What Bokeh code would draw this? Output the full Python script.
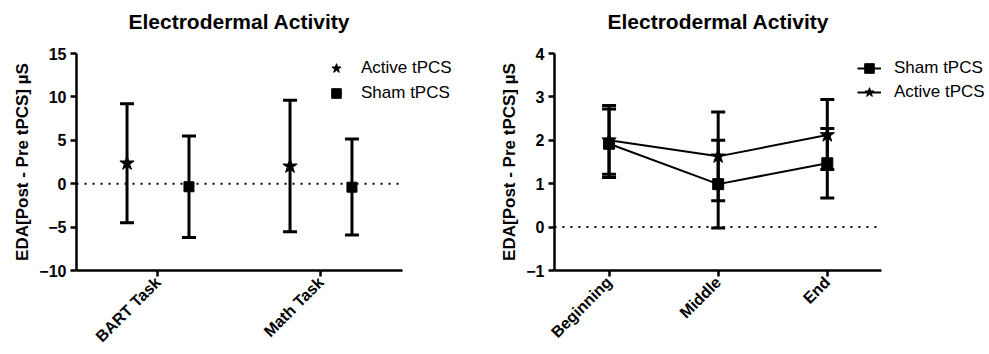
import math
from bokeh.plotting import figure
from bokeh.layouts import row
from bokeh.models import (ColumnDataSource, Whisker, TeeHead, Legend, LegendItem,
                          FixedTicker, Range1d, Title)
from bokeh.transform import dodge
from bokeh.embed import file_html
from bokeh.resources import INLINE

# ---------------- data ----------------
tasks = ["BART Task", "Math Task"]
task_active_mean = [2.35, 2.0]
task_active_upper = [9.2, 9.6]
task_active_lower = [-4.5, -5.55]
task_sham_mean = [-0.35, -0.4]
task_sham_upper = [5.5, 5.15]
task_sham_lower = [-6.2, -5.9]

phases = ["Beginning", "Middle", "End"]
phase_sham_mean = [1.92, 0.99, 1.47]
phase_sham_upper = [2.72, 2.0, 2.27]
phase_sham_lower = [1.14, -0.02, 0.67]
phase_active_mean = [2.0, 1.63, 2.12]
phase_active_upper = [2.8, 2.65, 2.94]
phase_active_lower = [1.22, 0.61, 1.33]

left_yticks = [-10, -5, 0, 5, 10, 15]
right_yticks = [-1, 0, 1, 2, 3, 4]

FONT = "Liberation Sans"
TITLE = "Electrodermal Activity"
YLABEL = "EDA[Post - Pre tPCS] µS"


def style(p, yticks, cats, title_offset):
    p.title.text_font = FONT
    p.title.text_font_size = "21px"
    p.title.text_font_style = "bold"
    p.title.text_color = "black"
    p.title.align = "left"
    p.title.offset = title_offset
    p.title.standoff = 0
    # blank spacer between the title and the plot frame
    p.add_layout(Title(text=" ", text_font_size="17px", standoff=0), "above")
    p.outline_line_color = None
    p.xgrid.grid_line_color = None
    p.ygrid.grid_line_color = None
    p.background_fill_color = None
    p.border_fill_color = None
    for ax in (p.xaxis[0], p.yaxis[0]):
        ax.axis_line_width = 2.5
        ax.axis_line_color = "black"
        ax.major_tick_line_width = 2.5
        ax.major_tick_line_color = "black"
        ax.major_tick_out = 6
        ax.major_tick_in = 0
        ax.minor_tick_line_color = None
        ax.major_label_text_font = FONT
        ax.major_label_text_font_style = "bold"
        ax.major_label_text_font_size = "16px"
        ax.major_label_text_color = "black"
    idx = list(range(len(cats)))
    p.xaxis[0].ticker = FixedTicker(ticks=idx)
    p.xaxis[0].major_label_overrides = {i: c for i, c in zip(idx, cats)}
    p.xaxis[0].bounds = (-0.5, len(cats) - 0.5)
    p.yaxis[0].ticker = FixedTicker(ticks=yticks)
    p.yaxis[0].axis_label = YLABEL
    p.yaxis[0].axis_label_text_font = FONT
    p.yaxis[0].axis_label_text_font_size = "17px"
    p.yaxis[0].axis_label_text_font_style = "bold"
    p.yaxis[0].axis_label_text_color = "black"
    p.yaxis[0].axis_label_standoff = 4
    p.yaxis[0].major_label_standoff = 4
    p.xaxis[0].major_label_orientation = math.pi / 4
    p.xaxis[0].major_label_standoff = 3
    # dotted zero reference line across the category extent
    p.segment(x0=[-0.5], y0=[0], x1=[len(cats) - 0.5], y1=[0], line_color="black",
              line_width=2, line_dash="2 6")


def whisk(p, src, base, color="black"):
    w = Whisker(base=base, upper="upper", lower="lower", source=src,
                dimension="height", line_width=3, line_color=color,
                upper_head=TeeHead(size=14, line_width=3, line_color=color),
                lower_head=TeeHead(size=14, line_width=3, line_color=color))
    p.add_layout(w)


# ---------------- left figure ----------------
nl = len(tasks)
pl = figure(width=490, height=354, x_range=Range1d(-0.5, nl - 0.5 + 0.454),
            y_range=Range1d(-10, 15), output_backend="svg", toolbar_location=None,
            title=TITLE, min_border_left=76, min_border_right=14,
            min_border_top=53, min_border_bottom=83)
style(pl, left_yticks, tasks, 52)

xl = list(range(nl))
src_la = ColumnDataSource(dict(x=xl, mean=task_active_mean,
                               upper=task_active_upper, lower=task_active_lower))
src_ls = ColumnDataSource(dict(x=xl, mean=task_sham_mean,
                               upper=task_sham_upper, lower=task_sham_lower))
whisk(pl, src_la, dodge("x", -0.19))
whisk(pl, src_ls, dodge("x", 0.19))
r_la = pl.scatter(x=dodge("x", -0.19), y="mean", source=src_la,
                  marker="star", size=15, color="black")
r_ls = pl.scatter(x=dodge("x", 0.19), y="mean", source=src_ls,
                  marker="square", size=10, color="black")

leg_l = Legend(items=[LegendItem(label="Active tPCS", renderers=[r_la]),
                      LegendItem(label="Sham tPCS", renderers=[r_ls])],
               location=(248, 165), padding=0, margin=0, spacing=1,
               glyph_width=24, glyph_height=24, label_height=20,
               label_standoff=13, border_line_color=None,
               background_fill_alpha=0, label_text_font=FONT,
               label_text_font_size="17px", label_text_color="black")
pl.add_layout(leg_l)

# ---------------- right figure ----------------
nr = len(phases)
pr = figure(width=499, height=354, x_range=Range1d(-0.5, nr - 0.5 + 0.968),
            y_range=Range1d(-1, 4), output_backend="svg", toolbar_location=None,
            title=TITLE, min_border_left=64, min_border_right=2,
            min_border_top=53, min_border_bottom=82)
style(pr, right_yticks, phases, 53)

xr = list(range(nr))
src_rs = ColumnDataSource(dict(x=xr, mean=phase_sham_mean,
                               upper=phase_sham_upper, lower=phase_sham_lower))
src_ra = ColumnDataSource(dict(x=xr, mean=phase_active_mean,
                               upper=phase_active_upper, lower=phase_active_lower))
whisk(pr, src_rs, "x")
whisk(pr, src_ra, "x")
l_rs = pr.line(x="x", y="mean", source=src_rs, line_width=2, color="black")
l_ra = pr.line(x="x", y="mean", source=src_ra, line_width=2, color="black")
m_rs = pr.scatter(x="x", y="mean", source=src_rs, marker="square", size=11, color="black")
m_ra = pr.scatter(x="x", y="mean", source=src_ra, marker="star", size=15, color="black")

leg_r = Legend(items=[LegendItem(label="Sham tPCS", renderers=[l_rs, m_rs]),
                      LegendItem(label="Active tPCS", renderers=[l_ra, m_ra])],
               location=(303, 166), padding=0, margin=0, spacing=0,
               glyph_width=24, glyph_height=24, label_height=20,
               label_standoff=13, border_line_color=None,
               background_fill_alpha=0, label_text_font=FONT,
               label_text_font_size="17px", label_text_color="black")
pr.add_layout(leg_r)

layout = row(pl, pr)
open("out.html", "w").write(file_html(layout, INLINE))
